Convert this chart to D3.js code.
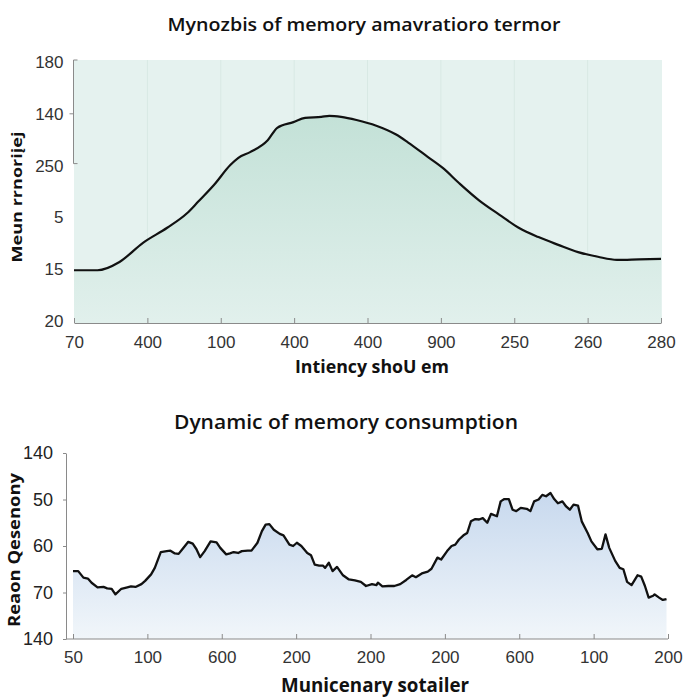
<!DOCTYPE html>
<html>
<head>
<meta charset="utf-8">
<script src="https://cdn.jsdelivr.net/npm/d3@7"></script>
<style>
  body { margin: 0; background: #fff; }
  text { font-family: "Liberation Sans", Arial, sans-serif; }
</style>
</head>
<body>
<svg id="chart" width="700" height="700"></svg>
<script>
// top chart
var topXLabels = ["70", "400", "100", "400", "400", "900", "250", "260", "280"];
var topYLabels = ["20", "15", "5", "250", "140", "180"];
var topX = [0, 0.32, 0.62, 0.94, 1.27, 1.54, 1.69, 1.91, 2.13, 2.24, 2.40, 2.64, 2.77, 2.99, 3.15, 3.37, 3.48, 3.64, 3.85, 4.12,
            4.39, 4.55, 4.82, 5.03, 5.25, 5.52, 5.80, 6.06, 6.33, 6.60, 6.87, 7.14, 7.40, 7.70, 8.0];
var topY = [0.98, 0.98, 1.14, 1.51, 1.80, 2.08, 2.30, 2.63, 3.01, 3.15, 3.26, 3.49, 3.73, 3.84, 3.92, 3.94, 3.96, 3.94, 3.88, 3.77,
            3.60, 3.45, 3.17, 2.95, 2.66, 2.33, 2.05, 1.80, 1.62, 1.47, 1.33, 1.24, 1.18, 1.19, 1.20];

// bottom chart
var bottomXLabels = ["50", "100", "600", "200", "200", "200", "600", "100", "200"];
var bottomYLabels = ["140", "70", "60", "50", "140"];
var bottomX = [0.00, 0.07, 0.14, 0.20, 0.25, 0.33, 0.41, 0.46, 0.52, 0.57, 0.65, 0.73, 0.78, 0.84, 0.92, 0.97, 1.05, 1.10, 1.18, 1.26,
               1.31, 1.37, 1.42, 1.47, 1.55, 1.61, 1.66, 1.71, 1.77, 1.85, 1.93, 1.98, 2.06, 2.11, 2.16, 2.22, 2.27, 2.35, 2.40, 2.48,
               2.54, 2.59, 2.64, 2.70, 2.78, 2.83, 2.91, 2.96, 3.01, 3.07, 3.15, 3.20, 3.25, 3.31, 3.36, 3.39, 3.44, 3.49, 3.55, 3.63,
               3.71, 3.79, 3.87, 3.94, 4.02, 4.08, 4.10, 4.16, 4.24, 4.32, 4.40, 4.48, 4.56, 4.61, 4.69, 4.77, 4.82, 4.90, 4.95, 5.03,
               5.09, 5.14, 5.19, 5.25, 5.30, 5.35, 5.41, 5.46, 5.51, 5.57, 5.62, 5.70, 5.75, 5.80, 5.86, 5.91, 5.96, 6.02, 6.10, 6.15,
               6.20, 6.26, 6.31, 6.36, 6.42, 6.47, 6.52, 6.58, 6.63, 6.68, 6.73, 6.79, 6.84, 6.92, 6.97, 7.05, 7.11, 7.16, 7.21, 7.29,
               7.35, 7.40, 7.45, 7.51, 7.59, 7.64, 7.69, 7.74, 7.80, 7.82, 7.88, 7.93, 7.98];
var bottomY = [1.46, 1.46, 1.32, 1.30, 1.21, 1.11, 1.12, 1.09, 1.08, 0.96, 1.08, 1.11, 1.13, 1.12, 1.18, 1.25, 1.39, 1.53, 1.87, 1.89,
               1.90, 1.84, 1.83, 1.93, 2.09, 2.05, 1.93, 1.76, 1.89, 2.10, 2.08, 1.96, 1.82, 1.84, 1.87, 1.85, 1.89, 1.90, 1.90, 2.07,
               2.32, 2.46, 2.47, 2.35, 2.26, 2.23, 2.03, 2.00, 2.07, 2.00, 1.85, 1.80, 1.60, 1.58, 1.58, 1.53, 1.64, 1.46, 1.55, 1.37,
               1.28, 1.26, 1.23, 1.14, 1.18, 1.16, 1.21, 1.13, 1.14, 1.14, 1.18, 1.27, 1.37, 1.33, 1.41, 1.45, 1.51, 1.75, 1.71, 1.89,
               2.00, 2.03, 2.14, 2.23, 2.28, 2.53, 2.58, 2.57, 2.60, 2.50, 2.69, 2.64, 2.96, 3.01, 3.01, 2.78, 2.75, 2.82, 2.80, 2.75,
               2.96, 3.00, 3.10, 3.07, 3.14, 3.01, 2.92, 2.96, 2.85, 2.78, 2.89, 2.87, 2.53, 2.28, 2.10, 1.93, 1.94, 2.25, 1.96, 1.68,
               1.53, 1.50, 1.23, 1.16, 1.37, 1.34, 1.14, 0.89, 0.93, 0.96, 0.89, 0.84, 0.86];

var svg = d3.select("#chart");
var defs = svg.append("defs");

function gradient(id, y1, y2, c1, c2) {
  var g = defs.append("linearGradient")
    .attr("id", id)
    .attr("gradientUnits", "userSpaceOnUse")
    .attr("x1", 0).attr("x2", 0)
    .attr("y1", y1).attr("y2", y2);
  g.append("stop").attr("offset", "0%").attr("stop-color", c1);
  g.append("stop").attr("offset", "100%").attr("stop-color", c2);
}

function styleAxis(g, color, size) {
  g.selectAll("path").attr("stroke", "#8a8a8a");
  g.selectAll("line").attr("stroke", "#8a8a8a");
  g.selectAll("text")
    .attr("fill", color)
    .style("font-size", size + "px");
}

function title(txt, x, y, size, weight, len, family, rotate) {
  var t = svg.append("text")
    .attr("text-anchor", "middle")
    .attr("fill", "#111")
    .style("font-family", family)
    .style("font-size", size + "px")
    .style("font-weight", weight)
    .attr("textLength", len)
    .attr("lengthAdjust", "spacingAndGlyphs")
    .text(txt);
  if(rotate)
    t.attr("transform", "translate(" + x + "," + y + ") rotate(-90)");
  else
    t.attr("x", x).attr("y", y);
}

// ---------- top chart ----------
var x1 = d3.scaleLinear().domain([0, 8]).range([74, 661]);
var y1 = d3.scaleLinear().domain([0, 5]).range([321, 62]);

gradient("topFill", y1(4), y1(0), "#c3e1d7", "#e1f0ec");

svg.append("rect")
  .attr("x", x1(0))
  .attr("y", y1(5) - 2)
  .attr("width", x1(8) - x1(0) + 1)
  .attr("height", y1(0) - y1(5) + 4)
  .attr("fill", "#e5f2ef");

svg.append("g")
  .selectAll("line")
  .data(d3.range(1, 8))
  .enter()
  .append("line")
  .attr("x1", function(d) { return x1(d); })
  .attr("x2", function(d) { return x1(d); })
  .attr("y1", y1(5) - 2)
  .attr("y2", y1(0) + 2)
  .attr("stroke", "#d8e9e4")
  .attr("stroke-width", 1);

var topData = d3.zip(topX, topY);

var topArea = d3.area()
  .x(function(d) { return x1(d[0]); })
  .y0(y1(0) + 2)
  .y1(function(d) { return y1(d[1]); })
  .curve(d3.curveMonotoneX);

var topLine = d3.line()
  .x(function(d) { return x1(d[0]); })
  .y(function(d) { return y1(d[1]); })
  .curve(d3.curveMonotoneX);

svg.append("path")
  .attr("d", topArea(topData))
  .attr("fill", "url(#topFill)");

svg.append("path")
  .attr("d", topLine(topData))
  .attr("fill", "none")
  .attr("stroke", "#111")
  .attr("stroke-width", 2.2);

var topXAxis = svg.append("g")
  .attr("transform", "translate(0," + (y1(0) + 2) + ")")
  .call(d3.axisBottom(x1)
    .tickValues(d3.range(9))
    .tickFormat(function(d, i) { return topXLabels[i]; })
    .tickSizeInner(-5)
    .tickSizeOuter(0)
    .tickPadding(13));
styleAxis(topXAxis, "#333", 17);

var topYAxis = svg.append("g")
  .attr("transform", "translate(" + (x1(0) - 0.5) + ",0)")
  .call(d3.axisLeft(y1)
    .tickValues(d3.range(6))
    .tickFormat(function(d, i) { return topYLabels[i]; })
    .tickSize(0)
    .tickPadding(10));
topYAxis.select(".domain").remove();
topYAxis.append("path")
  .attr("d", "M4," + (y1(5) - 2) + "H0V" + (y1(3) - 2) + "H4M0," + y1(4) + "H-4")
  .attr("fill", "none");
styleAxis(topYAxis, "#333", 17);

title("Mynozbis of memory amavratioro termor", 364, 31, 18, 600, 393, "'Open Sans', sans-serif", false);
title("Intiency shoU em", 372, 373, 17, 700, 154, "'Open Sans', sans-serif", false);
title("Meun rrnoriįej", 22, 197, 15, 700, 131, "'Open Sans', sans-serif", true);

// ---------- bottom chart ----------
var x2 = d3.scaleLinear().domain([0, 8]).range([73, 668]);
var y2 = d3.scaleLinear().domain([0, 4]).range([639, 453]);

gradient("bottomFill", y2(3.1), y2(0), "#c8d9ee", "#f1f6fa");

var bottomData = d3.zip(bottomX, bottomY);

var bottomArea = d3.area()
  .x(function(d) { return x2(d[0]); })
  .y0(y2(0))
  .y1(function(d) { return y2(d[1]); });

var bottomLine = d3.line()
  .x(function(d) { return x2(d[0]); })
  .y(function(d) { return y2(d[1]); });

svg.append("path")
  .attr("d", bottomArea(bottomData))
  .attr("fill", "url(#bottomFill)");

svg.append("path")
  .attr("d", bottomLine(bottomData))
  .attr("fill", "none")
  .attr("stroke", "#111")
  .attr("stroke-width", 2.3)
  .attr("stroke-linejoin", "round");

var bottomXAxis = svg.append("g")
  .attr("transform", "translate(0," + y2(0) + ")")
  .call(d3.axisBottom(x2)
    .tickValues(d3.range(9))
    .tickFormat(function(d, i) { return bottomXLabels[i]; })
    .tickSizeInner(-5)
    .tickSizeOuter(0)
    .tickPadding(12));
bottomXAxis.select(".domain").remove();
bottomXAxis.append("path")
  .attr("d", "M" + (x2(0) - 7) + ",0H" + x2(8))
  .attr("fill", "none");
styleAxis(bottomXAxis, "#333", 17);

var bottomYAxis = svg.append("g")
  .attr("transform", "translate(" + (x2(0) - 7) + ",0)")
  .call(d3.axisLeft(y2)
    .tickValues(d3.range(5))
    .tickFormat(function(d, i) { return bottomYLabels[i]; })
    .tickSizeInner(3)
    .tickSizeOuter(0)
    .tickPadding(10));
styleAxis(bottomYAxis, "#222", 18);

title("Dynamic of memory consumption", 346, 429, 20, 600, 344, "'Open Sans', sans-serif", false);
title("Municenary sotailer", 375, 692, 19, 700, 188, "'Open Sans', sans-serif", false);
title("Reaon Qesenony", 20, 550, 16, 700, 154, "'Open Sans', sans-serif", true);
</script>
</body>
</html>
